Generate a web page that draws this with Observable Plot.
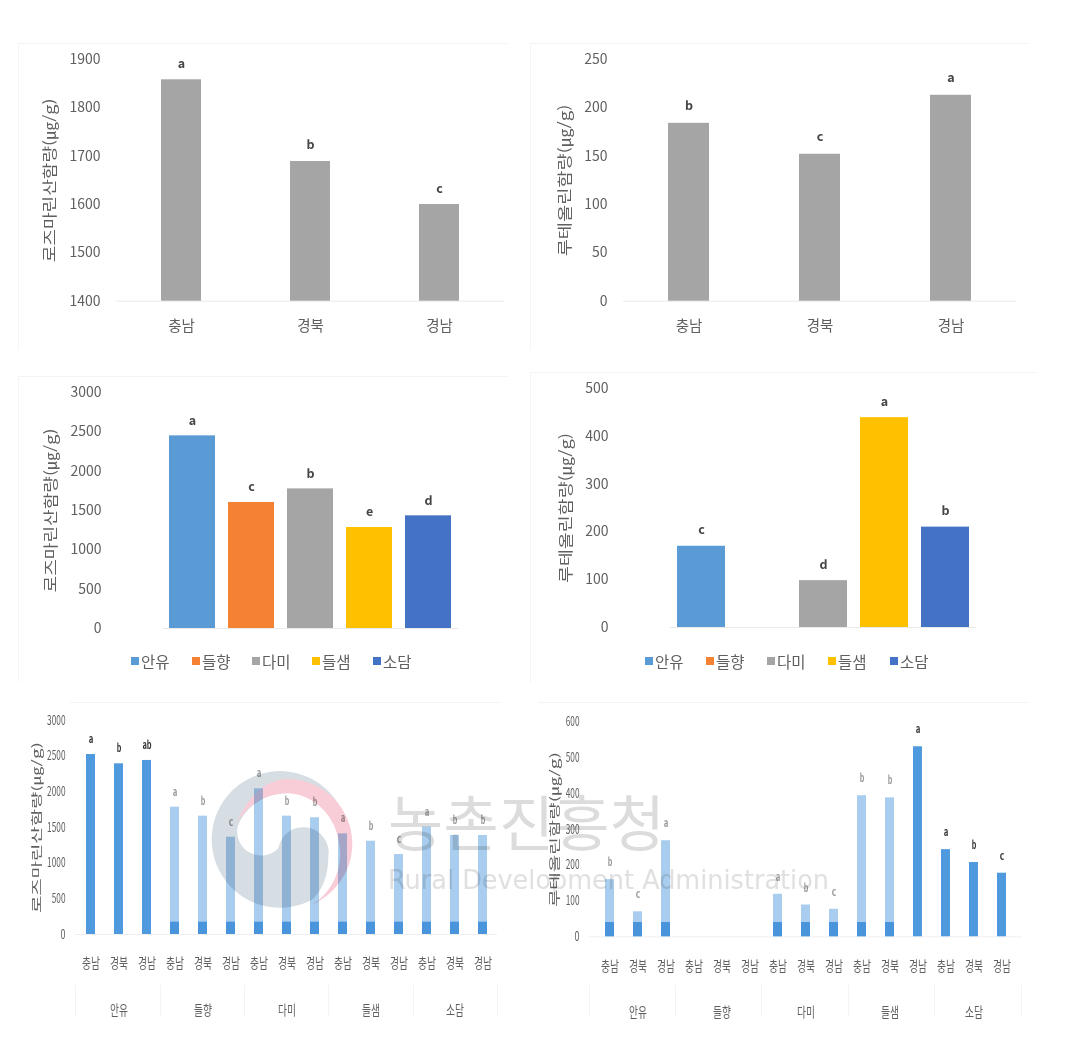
<!DOCTYPE html>
<html lang="ko">
<head>
<meta charset="utf-8">
<script src="https://cdn.jsdelivr.net/npm/d3@7"></script>
<script src="https://cdn.jsdelivr.net/npm/@observablehq/plot@0.6"></script>
<style>
html,body{margin:0;padding:0;background:#fff;overflow:hidden}
#root{position:relative;width:1071px;height:1037px;background:#fff;overflow:hidden;filter:blur(.7px);font-family:"Noto Sans CJK KR","Noto Sans",sans-serif;isolation:isolate}
.chart{position:absolute}
.chart svg{background:transparent;overflow:visible;display:block}
.frame{position:absolute;border-top:1px solid #f3f3f3;border-left:1px solid #f5f5f5}
.sep{position:absolute;width:1px;background:#f3f3f3}
.lg{position:absolute;font-size:15.5px;line-height:20px;color:#5f5f5f;white-space:nowrap}
.lg i{position:absolute;width:8px;height:8px;top:6px;left:-10px}
#mark{position:absolute;left:0;top:0;mix-blend-mode:multiply}
</style>
</head>
<body>
<div id="root">
  <div class="frame" style="left:18px;top:43px;width:488px;height:306px"></div>
  <div class="frame" style="left:530px;top:43px;width:498px;height:306px"></div>
  <div class="frame" style="left:18px;top:376px;width:488px;height:305px"></div>
  <div class="frame" style="left:530px;top:372px;width:505px;height:310px"></div>
  <div class="frame" style="left:70px;top:702px;width:430px;height:0"></div>
  <div class="frame" style="left:538px;top:702px;width:490px;height:0"></div>
</div>
<script>
// ---- shared categories ----
const regions = ["충남", "경북", "경남"];
const cultivars = ["안유", "들향", "다미", "들샘", "소담"];
const cultivarColors = ["#5b9bd5", "#f58232", "#a5a5a5", "#ffc000", "#4472c4"];
const rosLabel = "로즈마린산함량(㎍/g)";
const lutLabel = "루테올린함량(㎍/g)";

// ---- top row: by region ----
const rosByRegion = [1858, 1689, 1600];
const rosByRegionLetters = ["a", "b", "c"];
const lutByRegion = [184, 152, 213];
const lutByRegionLetters = ["b", "c", "a"];

// ---- middle row: by cultivar ----
const rosByCultivar = [2449, 1602, 1775, 1284, 1432];
const rosByCultivarLetters = ["a", "c", "b", "e", "d"];
const lutByCultivar = [170, null, 98, 439, 210];
const lutByCultivarLetters = ["c", null, "d", "a", "b"];

// ---- bottom row: cultivar x region ----
const rosDetail = [2523, 2393, 2440, 1785, 1659, 1364, 2042, 1659, 1636, 1411, 1308, 1121, 1505, 1388, 1388];
const rosDetailLetters = ["a","b","ab","a","b","c","a","b","b","a","b","c","a","b","b"];
const rosDetailStrong = [true,true,true,false,false,false,false,false,false,false,false,false,false,false,false];
const rosDetailBase = 173;
const lutDetail = [160, 70, 269, null, null, null, 119, 89, 77, 395, 389, 532, 244, 208, 178];
const lutDetailLetters = ["b","c","a",null,null,null,"a","b","c","b","b","a","a","b","c"];
const lutDetailStrong = [false,false,false,false,false,false,false,false,false,false,false,true,true,true,true];
const lutDetailBase = 40;

const ticks1 = [1400, 1500, 1600, 1700, 1800, 1900];
const ticks2 = [0, 50, 100, 150, 200, 250];
const ticks3 = [0, 500, 1000, 1500, 2000, 2500, 3000];
const ticks4 = [0, 100, 200, 300, 400, 500];
const ticks5 = [0, 500, 1000, 1500, 2000, 2500, 3000];
const ticks6 = [0, 100, 200, 300, 400, 500, 600];

const root = document.getElementById("root");
const M = {l: 130, r: 20, t: 30, b: 90};
const TXT = "#5f5f5f";

function place(svg, o) {
  const d = document.createElement("div");
  d.className = "chart";
  d.style.left = (o.L - M.l) + "px";
  d.style.top = (o.T - M.t) + "px";
  d.appendChild(svg);
  root.appendChild(d);
}

function simple(o) {
  const data = o.cats.map((c, i) => ({c, v: o.values[i], t: o.letters[i], col: o.colors ? o.colors[i] : "#a5a5a5"}));
  const svg = Plot.plot({
    width: o.R - o.L + M.l + M.r,
    height: o.B - o.T + M.t + M.b,
    marginLeft: M.l, marginRight: M.r, marginTop: M.t, marginBottom: M.b,
    style: {fontFamily: '"Noto Sans CJK KR","Noto Sans",sans-serif'},
    x: {domain: o.cats, paddingInner: o.pad, paddingOuter: o.pad / 2, align: 0.5, axis: null},
    y: {domain: [o.ticks[0], o.ticks[o.ticks.length - 1]], axis: null},
    marks: [
      Plot.ruleY([o.ticks[0]], {stroke: "#e9e9e9"}),
      Plot.barY(data, {x: "c", y1: () => o.ticks[0], y2: "v", fill: d => d.col}),
      Plot.text(data, {x: "c", y: "v", text: "t", dy: -o.ldy, fontSize: 12.5, fontWeight: 700, fill: "#444", lineAnchor: "middle"}),
      Plot.axisY({ticks: o.ticks, tickSize: 0, tickPadding: o.tp, fontSize: 14, color: TXT, label: null, tickFormat: d => String(d)}),
      o.xlabels ? Plot.axisX({tickSize: 0, tickPadding: 20, fontSize: 14.5, color: TXT, label: null}) : null,
      Plot.text([o.ylabel], {frameAnchor: "left", dx: o.lx - o.L, text: d => d, rotate: -90, textAnchor: "middle", fontSize: 14.5, fill: TXT, className: "ylab"})
    ]
  });
  d3.select(svg).selectAll(".ylab text").attr("textLength", o.llen).attr("lengthAdjust", "spacingAndGlyphs");
  place(svg, o);
}

function detail(o) {
  const data = [];
  cultivars.forEach((g, gi) => regions.forEach((r, ri) => {
    const i = gi * 3 + ri;
    data.push({k: g + "|" + r, v: o.values[i], t: o.letters[i], s: o.strong[i]});
  }));
  const keys = data.map(d => d.k);
  const present = data.filter(d => d.v != null);
  const svg = Plot.plot({
    width: o.R - o.L + M.l + M.r,
    height: o.B - o.T + M.t + M.b,
    marginLeft: M.l, marginRight: M.r, marginTop: M.t, marginBottom: M.b,
    style: {fontFamily: '"Noto Sans CJK KR","Noto Sans",sans-serif'},
    x: {domain: keys, paddingInner: 0.69, paddingOuter: 0.345, align: 0.5, axis: null},
    y: {domain: [o.ticks[0], o.ticks[o.ticks.length - 1]], axis: null},
    marks: [
      Plot.ruleY([0], {stroke: "#efefef"}),
      Plot.barY(present, {x: "k", y: "v", fill: d => d.s ? "#4f9ade" : "#a9cdee"}),
      Plot.barY(present.filter(d => !d.s), {x: "k", y: () => o.base, fill: "#4a94dc"}),
      Plot.text(present, {x: "k", y: "v", text: "t", dy: -o.ldy, fontSize: 11, fontWeight: 700, fill: d => d.s ? "#333" : "#999", lineAnchor: "middle", className: "lett"}),
      Plot.axisY({ticks: o.ticks, tickSize: 0, tickPadding: 10, fontSize: 12.5, color: TXT, label: null, tickFormat: d => String(d)}),
      Plot.axisX({tickSize: 0, tickPadding: 24, fontSize: 14, color: TXT, label: null, tickFormat: d => d.split("|")[1]}),
      Plot.text(cultivars, {x: d => d + "|" + regions[1], frameAnchor: "bottom", dy: o.gy, text: d => d, fontSize: 14, fill: TXT, lineAnchor: "middle", className: "grp"}),
      Plot.text([o.ylabel], {frameAnchor: "left", dx: o.lx - o.L, text: d => d, rotate: -90, textAnchor: "middle", fontSize: 11.5, fill: TXT, className: "ylab"})
    ]
  });
  const s = d3.select(svg);
  s.selectAll(".ylab text").attr("textLength", o.llen).attr("lengthAdjust", "spacingAndGlyphs");
  s.selectAll(".lett text").attr("textLength", function () { return this.textContent.length * 4.6; }).attr("lengthAdjust", "spacingAndGlyphs");
  s.selectAll(".grp text").attr("textLength", 18).attr("lengthAdjust", "spacingAndGlyphs");
  s.selectAll('[aria-label="x-axis tick label"] text').attr("textLength", 18).attr("lengthAdjust", "spacingAndGlyphs");
  s.selectAll('[aria-label="y-axis tick label"] text').attr("textLength", function () {
    return Math.max(5, this.textContent.length * 4.6);
  }).attr("lengthAdjust", "spacingAndGlyphs");
  place(svg, o);
}

function legend(xs) {
  cultivars.forEach((c, i) => {
    const s = document.createElement("div");
    s.className = "lg";
    s.style.left = xs[i] + "px";
    s.style.top = "651px";
    const sw = document.createElement("i");
    sw.style.background = cultivarColors[i];
    s.appendChild(sw);
    s.appendChild(document.createTextNode(c));
    root.appendChild(s);
  });
}

simple({L: 116, R: 504.5, T: 59, B: 300.7, cats: regions, values: rosByRegion, letters: rosByRegionLetters,
  ticks: ticks1, pad: 0.69, tp: 16, ldy: 16, xlabels: true, ylabel: rosLabel, lx: 50, llen: 164});
simple({L: 623, R: 1016, T: 59, B: 300.7, cats: regions, values: lutByRegion, letters: lutByRegionLetters,
  ticks: ticks2, pad: 0.69, tp: 16, ldy: 17, xlabels: true, ylabel: lutLabel, lx: 565, llen: 152});
simple({L: 162.5, R: 457.5, T: 391.7, B: 627.7, cats: cultivars, values: rosByCultivar, letters: rosByCultivarLetters,
  colors: cultivarColors, ticks: ticks3, pad: 0.22, tp: 62, ldy: 15, ylabel: rosLabel, lx: 50, llen: 164});
simple({L: 669.5, R: 975.5, T: 388, B: 627, cats: cultivars, values: lutByCultivar, letters: lutByCultivarLetters,
  colors: cultivarColors, ticks: ticks4, pad: 0.21, tp: 62, ldy: 16, ylabel: lutLabel, lx: 565, llen: 150});
detail({L: 75, R: 497, T: 720, B: 934, values: rosDetail, letters: rosDetailLetters, strong: rosDetailStrong,
  base: rosDetailBase, ticks: ticks5, ldy: 15, gy: 76, ylabel: rosLabel, lx: 37, llen: 171});
detail({L: 588.6, R: 1021, T: 721.7, B: 936, values: lutDetail, letters: lutDetailLetters, strong: lutDetailStrong,
  base: lutDetailBase, ticks: ticks6, ldy: 17, gy: 76, ylabel: lutLabel, lx: 554, llen: 155});

legend([141, 202, 262, 322, 383]);
legend([655, 716, 777, 838, 900]);

// group separators under the bottom charts
[[75, 985], [160, 985], [244, 985], [328, 985], [413, 985], [497, 985],
 [589, 985], [675, 985], [761, 985], [848, 985], [934, 985], [1021, 985]].forEach(([x, y]) => {
  const d = document.createElement("div");
  d.className = "sep";
  d.style.left = x + "px";
  d.style.top = y + "px";
  d.style.height = "32px";
  root.appendChild(d);
});

// agency watermark, laid over the charts
const ns = "http://www.w3.org/2000/svg";
const wm = document.createElementNS(ns, "svg");
wm.setAttribute("id", "mark");
wm.setAttribute("width", 1071);
wm.setAttribute("height", 1037);
wm.innerHTML = `
  <g transform="translate(200 760) scale(.3333)">
    <path fill="#d6dde3" d="M425 150 A205 205 0 1 0 335 420 C370 390 385 340 385 290 A75 75 0 0 0 235 265 A72 72 0 0 1 113 200 C135 140 195 100 260 100 C320 60 390 100 425 150 Z"/>
    <path fill="#f9cdd7" d="M108 195 C140 110 200 57 262 57 A195 195 0 0 1 457 252 C457 330 410 400 335 435 C395 400 425 330 420 270 C415 170 340 100 260 100 C195 100 135 140 108 195 Z"/>
  </g>
  <text x="388" y="846" font-size="60" textLength="277" lengthAdjust="spacing" fill="#dcdcdc"
        font-family="'Noto Sans CJK KR'" font-weight="400">농촌진흥청</text>
  <text x="388" y="889" font-size="26" textLength="441" lengthAdjust="spacingAndGlyphs" fill="#e0e0e0"
        font-family="'DejaVu Sans'">Rural Development Administration</text>`;
root.appendChild(wm);
</script>
</body>
</html>
